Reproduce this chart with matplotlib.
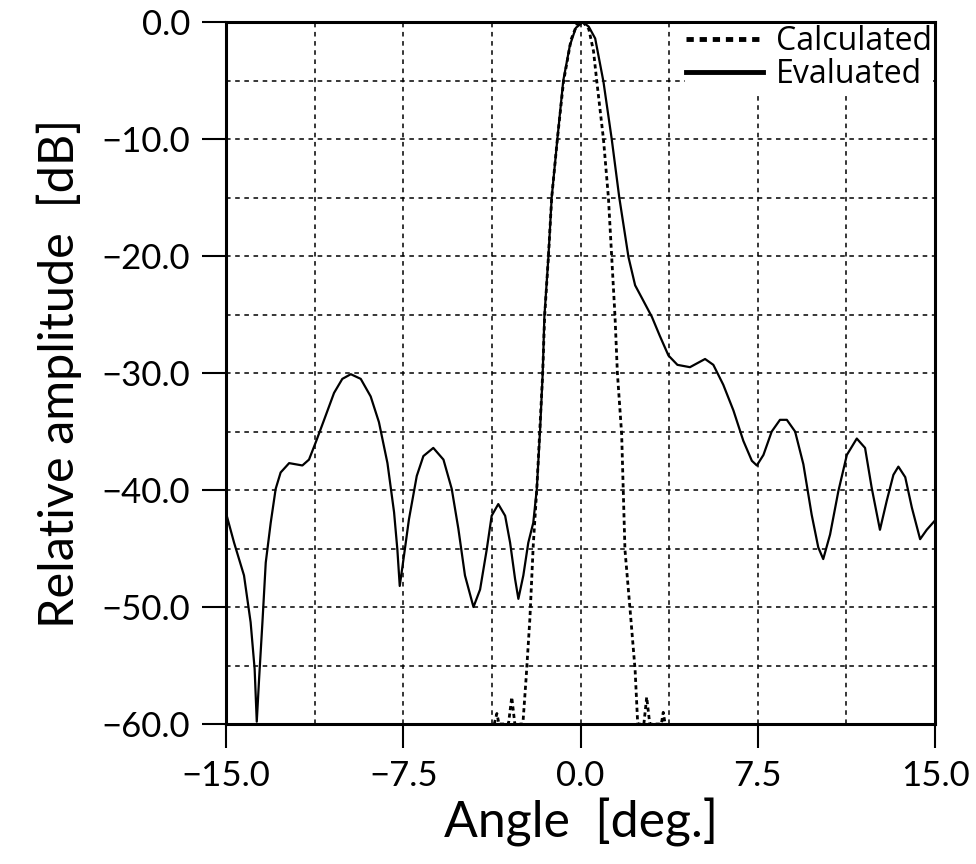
import matplotlib.pyplot as plt
import numpy as np
from matplotlib.ticker import MultipleLocator

# Evaluated pattern (solid)
eval_deg = [-14.97, -14.66, -14.24, -13.96, -13.79, -13.70, -13.6, -13.46, -13.32, -13.11,
            -12.9, -12.69, -12.33, -12.05, -11.77, -11.49, -11.2, -10.85, -10.43, -10.08,
            -9.72, -9.3, -8.88, -8.53, -8.17, -7.89, -7.75, -7.65, -7.47, -7.26, -6.93,
            -6.65, -6.23, -5.8, -5.45, -5.17, -4.89, -4.53, -4.25, -3.97, -3.76, -3.48,
            -3.19, -2.98, -2.77, -2.63, -2.42, -2.21, -2.0, -1.85, -1.71, -1.6, -1.53,
            -1.36, -1.22, -0.98, -0.73, -0.45, -0.2, 0.1, 0.35, 0.62, 0.97, 1.32, 1.64,
            2.03, 2.31, 2.6, 3.02, 3.35, 3.72, 4.1, 4.63, 5.27, 5.62, 6.04, 6.47, 6.89,
            7.25, 7.46, 7.74, 8.09, 8.44, 8.73, 9.08, 9.43, 9.78, 10.06, 10.27, 10.56,
            10.91, 11.27, 11.69, 12.04, 12.32, 12.67, 12.96, 13.24, 13.45, 13.74, 14.02,
            14.37, 14.65, 15.0]
eval_db = [-42.2, -44.5, -47.3, -51.3, -55.3, -59.8, -56.1, -51.3, -46.2, -42.8,
           -39.9, -38.5, -37.7, -37.8, -37.9, -37.4, -35.9, -34.0, -31.7, -30.5,
           -30.1, -30.5, -32.0, -34.2, -37.7, -41.9, -45.1, -48.2, -45.6, -42.5, -38.8,
           -37.1, -36.4, -37.4, -39.9, -43.3, -47.3, -50.0, -48.5, -45.1, -42.2, -41.2,
           -42.2, -44.5, -47.6, -49.3, -47.3, -44.5, -42.8, -39.9, -34.8, -30.0, -25.2,
           -20.1, -15.0, -10.0, -5.0, -2.0, -0.5, 0.0, -0.4, -1.4, -5.1, -10.0, -15.0,
           -20.1, -22.5, -23.6, -25.2, -26.8, -28.5, -29.3, -29.5, -28.8, -29.3, -31.0,
           -33.2, -35.8, -37.5, -37.9, -37.0, -35.0, -34.0, -34.0, -35.0, -37.8, -42.1,
           -44.9, -45.9, -43.8, -40.1, -37.0, -35.6, -36.4, -39.8, -43.4, -40.9, -38.7,
           -38.0, -38.9, -41.5, -44.2, -43.4, -42.6]

# Calculated pattern (dotted)
calc_deg = [-3.65, -3.54, -3.45, -3.05, -2.91, -2.78, -2.44, -2.3, -2.14, -2.0, -1.85,
            -1.6, -1.52, -1.36, -1.22, -0.98, -0.72, -0.4, -0.15, 0.1, 0.35, 0.55, 0.69,
            0.97, 1.18, 1.32, 1.46, 1.56, 1.74, 1.88, 2.1, 2.31, 2.42, 2.68, 2.8, 2.93,
            3.42, 3.5, 3.58]
calc_db = [-60.0, -59.1, -60.0, -60.0, -57.7, -60.0, -60.0, -56.0, -50.9, -44.7, -39.9,
           -30.0, -25.2, -20.1, -15.0, -10.0, -5.1, -1.5, -0.2, 0.0, -0.6, -2.5, -5.1,
           -10.0, -15.0, -20.1, -25.2, -30.0, -35.2, -45.1, -50.3, -55.4, -60.0, -60.0,
           -57.7, -60.0, -60.0, -59.0, -60.0]

xticks = [-15.0, -7.5, 0.0, 7.5, 15.0]
yticks = [0, -10, -20, -30, -40, -50, -60]

plt.rcParams['font.family'] = ['Lato', 'DejaVu Sans']
plt.rcParams['text.color'] = 'black'

fig = plt.figure(figsize=(9.76, 8.64), dpi=100)
ax = fig.add_axes([0.2316, 0.162, 0.7264, 0.8125])

ax.plot(calc_deg, calc_db, color='black', lw=2.0, linestyle=(0, (1.5, 1.2)),
        label='Calculated', zorder=3)
ax.plot(eval_deg, eval_db, color='black', lw=1.6, label='Evaluated', zorder=3)

ax.set_xlim(-15, 15)
ax.set_ylim(-60, 0)
ax.set_xticks(xticks)
ax.set_xticklabels([f'{v:.1f}'.replace('-', '\u2212') for v in xticks])
ax.set_yticks(yticks)
ax.set_yticklabels([f'{v:.1f}'.replace('-', '\u2212') if v != 0 else '0.0' for v in yticks])
ax.xaxis.set_minor_locator(MultipleLocator(3.75))
ax.yaxis.set_minor_locator(MultipleLocator(5))
ax.grid(which='both', color='black', linestyle=(0, (3, 3)), lw=1.1)
ax.tick_params(which='major', direction='out', length=17, width=1.5, pad=9,
               labelsize=25, colors='black')
ax.tick_params(which='minor', length=0)

for s in ax.spines.values():
    s.set_linewidth(2.2)

ax.set_xlabel('Angle  [deg.]', fontsize=36, color='black', labelpad=4)
ax.set_ylabel('Relative amplitude  [dB]', fontsize=35, color='black', labelpad=14)

leg = ax.legend(loc='upper right', frameon=True, handlelength=2.4,
                borderpad=0.05, borderaxespad=0.05, handletextpad=0.4, labelspacing=0.0,
                prop={'family': ['Open Sans', 'DejaVu Sans'], 'size': 23})
leg.get_frame().set_edgecolor('none')
leg.get_frame().set_alpha(1)
for h in leg.get_lines():
    h.set_linewidth(3.5)

fig.savefig('out.png', dpi=100)
